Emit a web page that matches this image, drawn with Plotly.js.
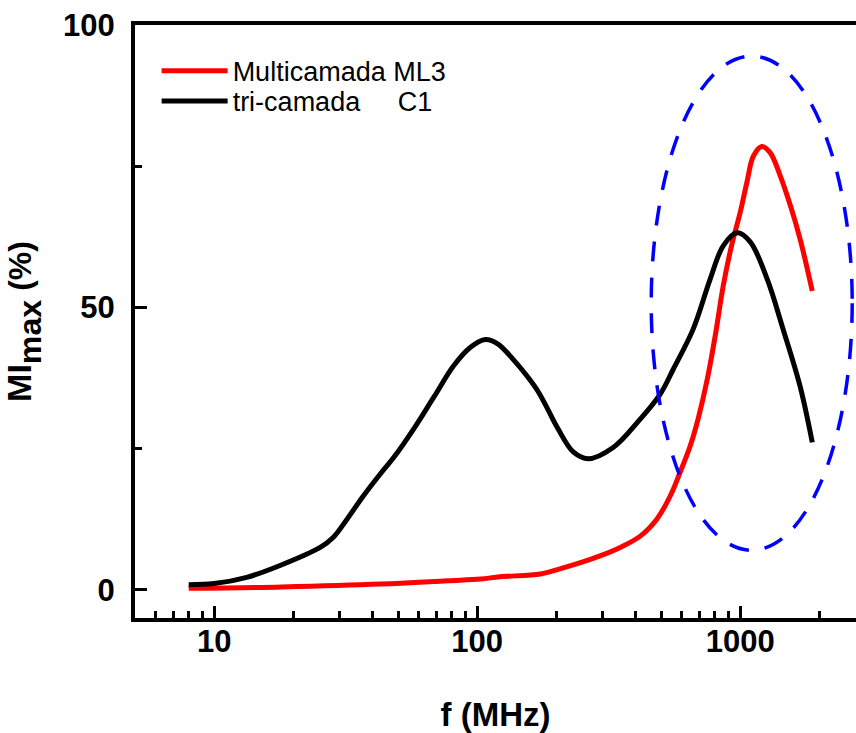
<!DOCTYPE html>
<html>
<head>
<meta charset="utf-8">
<script src="https://cdn.plot.ly/plotly-3.0.1.min.js"></script>
<style>html,body{margin:0;padding:0;background:#fff;}#chart{width:856px;height:733px;}</style>
</head>
<body>
<div id="chart"></div>
<script>
// ---- data ----
const seriesNames = ["Multicamada ML3", "tri-camada\u00A0\u00A0\u00A0\u00A0\u00A0C1"];
const seriesColors = ["#ff0000", "#000000"];

const fRed = [8, 18, 43, 77, 103, 122, 174, 206, 247, 293, 350, 417, 482, 542, 591, 646, 694, 750, 808, 862, 927, 1000, 1060, 1123, 1208, 1300, 1420, 1553, 1690, 1880];
const miRed = [0.25, 0.5, 1.0, 1.6, 1.9, 2.3, 2.8, 3.7, 4.8, 6.0, 7.5, 9.5, 12.5, 16.6, 20.8, 25.5, 30.5, 37.3, 45.6, 53.8, 60.9, 66.8, 72.1, 76.8, 78.5, 77.4, 73.3, 68.0, 62.1, 52.9];

const fBlack = [8, 10, 13.3, 17.8, 25.3, 28.4, 32, 36.9, 42.8, 48.3, 57.4, 68.4, 81.5, 94.1, 107.5, 120, 137, 155, 170, 184, 203, 232, 264, 329, 406, 496, 556, 662, 769, 862, 974, 1092, 1267, 1457, 1690, 1880];
const miBlack = [0.9, 1.1, 2.2, 4.3, 7.5, 9.3, 12.5, 16.6, 20.5, 23.5, 28.5, 34.1, 39.7, 42.9, 44.3, 43.5, 40.8, 37.8, 35.2, 32.3, 28.5, 24.4, 23.2, 25.2, 29.6, 34.6, 39.0, 46.1, 55.0, 60.9, 63.2, 61.6, 55.0, 46.1, 36.0, 26.1];

const xTickVals = [10, 100, 1000];
const xTickText = ["10", "100", "1000"];
const xMinorVals = [6, 7, 8, 9, 20, 30, 40, 50, 60, 70, 80, 90, 200, 300, 400, 500, 600, 700, 800, 900, 2000];
const yTickVals = [0, 50, 100];
const yMinorVals = [25, 75];

// highlight ellipse bounds (data units)
const ellipseF = [459, 2667];
const ellipseMI = [7, 94.5];

const FONT = "'Liberation Sans', Arial, Helvetica, sans-serif";

const traces = [
  {x: fRed, y: miRed, name: seriesNames[0], type: "scatter", mode: "lines", legend: "legend",
   line: {color: seriesColors[0], width: 5, shape: "spline", smoothing: 1}},
  {x: fBlack, y: miBlack, name: seriesNames[1], type: "scatter", mode: "lines", legend: "legend2",
   line: {color: seriesColors[1], width: 5, shape: "spline", smoothing: 1}}
];

const legendBase = {xanchor: "left", yanchor: "top", bgcolor: "rgba(0,0,0,0)", borderwidth: 0,
  itemwidth: 66, font: {family: FONT, size: 27, color: "#000"}};

const layout = {
  width: 856, height: 733,
  margin: {l: 135, r: 0, t: 25, b: 115, pad: 0},
  paper_bgcolor: "#ffffff", plot_bgcolor: "#ffffff",
  font: {family: FONT, color: "#000"},
  showlegend: true,
  legend: Object.assign({x: 0.03, y: 0.9636}, legendBase),
  legend2: Object.assign({x: 0.03, y: 0.9126}, legendBase),
  xaxis: {
    type: "log",
    range: [Math.log10(5), Math.log10(5) + 721 / 263],
    showline: true, linecolor: "#000", linewidth: 4, mirror: true,
    showgrid: false, zeroline: false,
    tickmode: "array", tickvals: xTickVals, ticktext: xTickText,
    ticks: "inside", ticklen: 12, tickwidth: 3, tickcolor: "#000",
    ticklabelstandoff: -7,
    tickfont: {family: FONT, size: 31, color: "#000", weight: "bold"},
    minor: {tickmode: "array", tickvals: xMinorVals, ticks: "inside", ticklen: 7, tickwidth: 3, tickcolor: "#000", showgrid: false},
    title: {text: "<b>f (MHz)</b>", font: {family: FONT, size: 33, color: "#000"}}
  },
  yaxis: {
    range: [-5, 100],
    showline: true, linecolor: "#000", linewidth: 4, mirror: false,
    showgrid: false, zeroline: false,
    tickmode: "array", tickvals: yTickVals,
    ticks: "inside", ticklen: 12, tickwidth: 3, tickcolor: "#000",
    ticklabelstandoff: 10,
    tickfont: {family: FONT, size: 31, color: "#000", weight: "bold"},
    minor: {tickmode: "array", tickvals: yMinorVals, ticks: "inside", ticklen: 7, tickwidth: 3, tickcolor: "#000", showgrid: false},
    title: {text: "<b><span style=\"font-size:34px\">MI</span><sub>max</sub><span style=\"font-size:32px\"> (%)</span></b>",
            font: {family: FONT, size: 46, color: "#000"}}
  },
  shapes: [{
    type: "circle", xref: "x", yref: "y",
    x0: ellipseF[0], x1: ellipseF[1], y0: ellipseMI[0], y1: ellipseMI[1],
    line: {color: "#0000ff", width: 3.5, dash: "20px,16px"}
  }]
};

Plotly.newPlot("chart", traces, layout, {displayModeBar: false, staticPlot: true});
</script>
</body>
</html>
